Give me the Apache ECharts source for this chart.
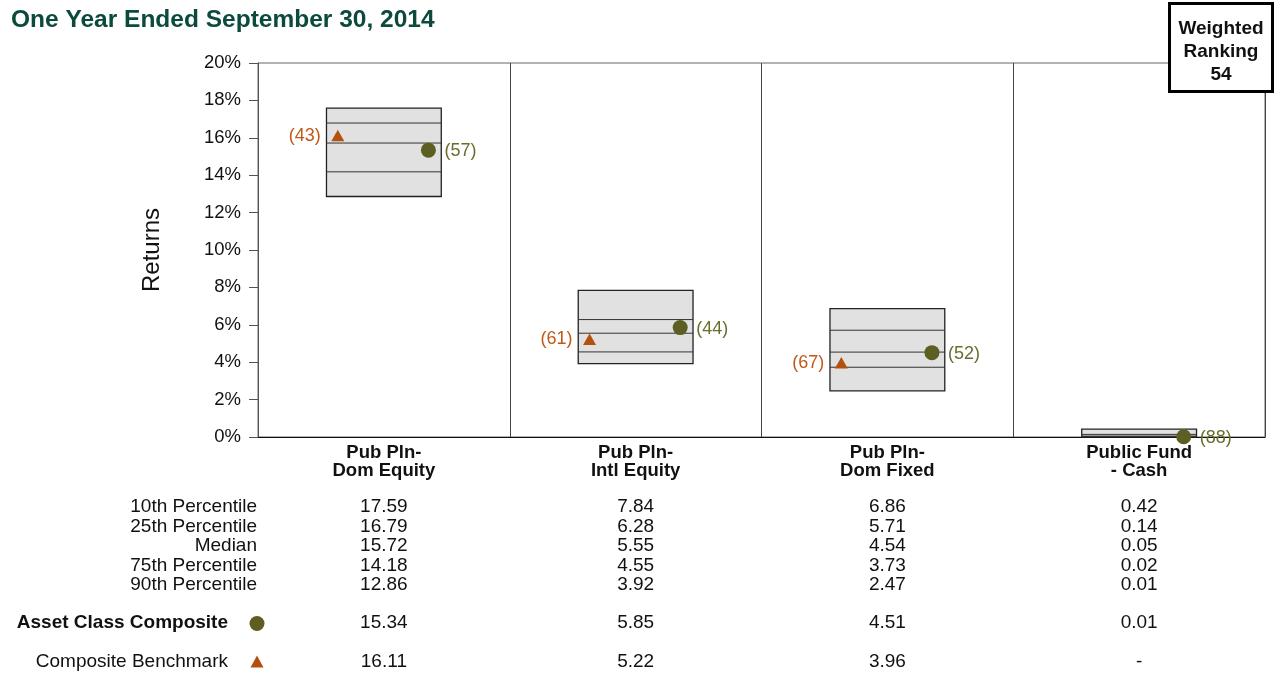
<!DOCTYPE html>
<html>
<head>
<meta charset="utf-8">
<script src="https://cdn.jsdelivr.net/npm/echarts@6/dist/echarts.min.js"></script>
<style>
  html, body { margin: 0; padding: 0; background: #fff; }
  #main { width: 1283px; height: 674px; }
</style>
</head>
<body>
<div id="main"></div>
<script>
// data
var categories = ['Pub Pln-\nDom Equity', 'Pub Pln-\nIntl Equity', 'Pub Pln-\nDom Fixed', 'Public Fund\n- Cash'];
var p10 = [17.59, 7.84, 6.86, 0.42];
var p25 = [16.79, 6.28, 5.71, 0.14];
var median = [15.72, 5.55, 4.54, 0.05];
var p75 = [14.18, 4.55, 3.73, 0.02];
var p90 = [12.86, 3.92, 2.47, 0.01];
var composite = [15.34, 5.85, 4.51, 0.01];
var compositeRank = [57, 44, 52, 88];
var benchmark = [16.11, 5.22, 3.96, null];
var benchmarkRank = [43, 61, 67, null];
var weightedRanking = 54;
var rowLabels = ['10th Percentile', '25th Percentile', 'Median', '75th Percentile', '90th Percentile'];

var FONT = 'Liberation Sans, Arial, sans-serif';
var OLIVE = '#5c5e22';
var ORANGE = '#b4500e';

var chart = echarts.init(document.getElementById('main'));

var boxData = categories.map(function (c, i) {
  return [i, p90[i], p75[i], median[i], p25[i], p10[i]];
});
var compData = composite.map(function (v, i) { return [i, v, compositeRank[i]]; });
var benchData = [];
benchmark.forEach(function (v, i) { if (v != null) benchData.push([i, v, benchmarkRank[i]]); });

function renderBox(params, api) {
  var i = api.value(0);
  var bw = api.size([1, 0])[0];
  var half = bw * 0.228;
  var cx = api.coord([i, 0])[0];
  var yLo = api.coord([i, api.value(1)])[1];
  var yHi = api.coord([i, api.value(5)])[1];
  var children = [{
    type: 'rect',
    shape: { x: cx - half, y: yHi, width: half * 2, height: yLo - yHi },
    style: { fill: '#e1e1e1', stroke: '#222', lineWidth: 1.3 }
  }];
  [2, 3, 4].forEach(function (k) {
    var y = api.coord([i, api.value(k)])[1];
    children.push({
      type: 'line',
      shape: { x1: cx - half, y1: y, x2: cx + half, y2: y },
      style: { stroke: '#333', lineWidth: 1 }
    });
  });
  return { type: 'group', children: children };
}

function renderCircle(params, api) {
  var i = api.value(0);
  var bw = api.size([1, 0])[0];
  var p = api.coord([i, api.value(1)]);
  var x = p[0] + bw * 0.177;
  return {
    type: 'group',
    children: [
      { type: 'circle', shape: { cx: x, cy: p[1], r: 7.5 }, style: { fill: OLIVE } },
      { type: 'text', x: x + 16, y: p[1] + 1, style: {
        text: '(' + api.value(2) + ')', fill: '#6b6d2d', font: '18px ' + FONT,
        textAlign: 'left', textVerticalAlign: 'middle' } }
    ]
  };
}

function renderTriangle(params, api) {
  var i = api.value(0);
  var bw = api.size([1, 0])[0];
  var p = api.coord([i, api.value(1)]);
  var x = p[0] - bw * 0.183;
  return {
    type: 'group',
    children: [
      { type: 'polygon', shape: { points: [[x, p[1] - 6], [x + 6.5, p[1] + 5.5], [x - 6.5, p[1] + 5.5]] },
        style: { fill: ORANGE } },
      { type: 'text', x: x - 17, y: p[1], style: {
        text: '(' + api.value(2) + ')', fill: '#c0591a', font: '18px ' + FONT,
        textAlign: 'right', textVerticalAlign: 'middle' } }
    ]
  };
}

var option = {
  animation: false,
  title: {
    text: 'One Year Ended September 30, 2014',
    left: 6, top: 3,
    textStyle: { color: '#0b4a3c', fontSize: 24.5, fontWeight: 'bold', fontFamily: FONT }
  },
  grid: {
    left: 258, right: 18, top: 63, bottom: 237,
    show: true, borderColor: '#666', borderWidth: 1
  },
  xAxis: {
    type: 'category',
    data: categories,
    axisLine: { lineStyle: { color: '#111', width: 1.2 } },
    axisTick: { show: false },
    axisLabel: { color: '#111', fontSize: 18.5, fontWeight: 'bold', fontFamily: FONT, lineHeight: 18, margin: 7 },
    splitLine: { show: true, lineStyle: { color: '#444', width: 1 } }
  },
  yAxis: {
    type: 'value',
    min: 0, max: 20, interval: 2,
    name: 'Returns',
    nameLocation: 'middle',
    nameGap: 94,
    nameTextStyle: { fontSize: 24, color: '#111', fontFamily: FONT },
    axisLine: { show: true, lineStyle: { color: '#555' } },
    axisTick: { show: true, length: 9, lineStyle: { color: '#555' } },
    axisLabel: { formatter: '{value}%', color: '#111', fontSize: 18.5, fontFamily: FONT, margin: 17 },
    splitLine: { show: false }
  },
  series: [
    { type: 'custom', renderItem: renderBox, data: boxData, encode: { x: 0, y: [1, 5] }, z: 2 },
    { type: 'custom', renderItem: renderTriangle, data: benchData, encode: { x: 0, y: 1 }, z: 3 },
    { type: 'custom', renderItem: renderCircle, data: compData, encode: { x: 0, y: 1 }, z: 4 }
  ]
};
chart.setOption(option);

// table under the chart plus the ranking box
var graphics = [];
var rowY = [507, 526.5, 546, 565.5, 584.5];
var rowsData = [p10, p25, median, p75, p90];
function txt(x, y, s, align, opts) {
  opts = opts || {};
  return {
    type: 'text', x: x, y: y,
    style: {
      text: s, fill: opts.fill || '#111',
      font: (opts.bold ? 'bold ' : '') + '19px ' + FONT,
      textAlign: align, textVerticalAlign: 'middle'
    }
  };
}
rowLabels.forEach(function (lab, r) {
  graphics.push(txt(257, rowY[r], lab, 'right'));
});
categories.forEach(function (c, i) {
  var x = chart.convertToPixel({ xAxisIndex: 0 }, c);
  rowsData.forEach(function (arr, r) {
    graphics.push(txt(x, rowY[r], arr[i].toFixed(2), 'center'));
  });
  graphics.push(txt(x, 623, composite[i].toFixed(2), 'center'));
  graphics.push(txt(x, 661.5, benchmark[i] == null ? '-' : benchmark[i].toFixed(2), 'center'));
});
graphics.push(txt(228, 623, 'Asset Class Composite', 'right', { bold: true }));
graphics.push({ type: 'circle', shape: { cx: 257, cy: 623.5, r: 7.5 }, style: { fill: OLIVE } });
graphics.push(txt(228, 661.5, 'Composite Benchmark', 'right'));
graphics.push({ type: 'polygon', shape: { points: [[257, 655.5], [263.5, 667.5], [250.5, 667.5]] }, style: { fill: ORANGE } });

graphics.push({
  type: 'rect', z: 10,
  shape: { x: 1169.5, y: 3.5, width: 103, height: 88 },
  style: { fill: '#fff', stroke: '#000', lineWidth: 3 }
});
graphics.push({
  type: 'text', z: 11, x: 1221, y: 52,
  style: {
    text: 'Weighted\nRanking\n' + weightedRanking, fill: '#111',
    font: 'bold 19px ' + FONT, lineHeight: 23,
    textAlign: 'center', textVerticalAlign: 'middle'
  }
});
chart.setOption({ graphic: graphics });
</script>
</body>
</html>
